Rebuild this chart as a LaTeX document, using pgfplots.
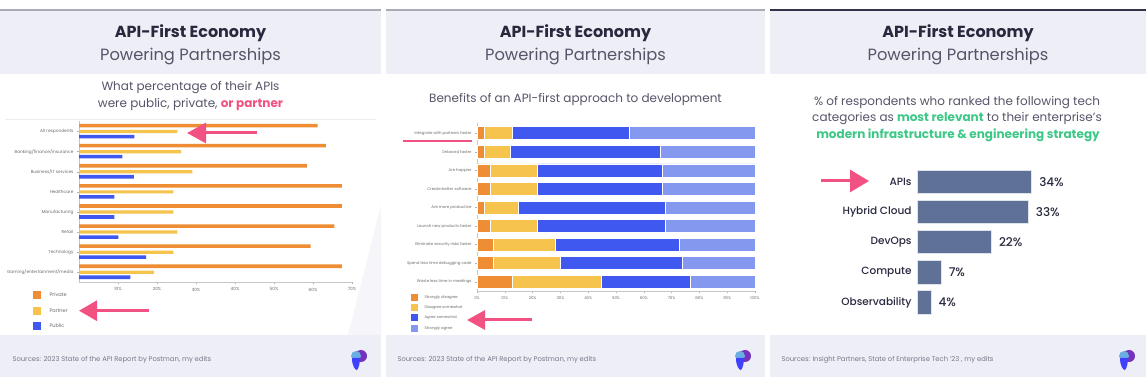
\documentclass[border=0pt]{standalone}
\usepackage{fontspec}
\setmainfont{Poppins}
\newfontfamily\popmed{Poppins Medium}
\usepackage{pgfplots}
\pgfplotsset{compat=1.18}
\usetikzlibrary{arrows.meta}
\definecolor{orangeC}{RGB}{238,141,52}
\definecolor{yellowC}{RGB}{246,195,76}
\definecolor{blueC}{RGB}{62,88,240}
\definecolor{lblueC}{RGB}{132,152,240}
\definecolor{slateC}{RGB}{95,113,150}
\definecolor{band}{RGB}{238,238,246}
\definecolor{titleC}{RGB}{40,40,62}
\definecolor{subC}{RGB}{85,85,105}
\definecolor{pinkC}{RGB}{242,82,130}
\definecolor{greenC}{RGB}{62,200,135}
\definecolor{lineC}{RGB}{170,170,185}
\definecolor{darkline}{RGB}{50,50,75}
\definecolor{footC}{RGB}{120,120,138}
\begin{document}
\begin{tikzpicture}[x=1pt,y=1pt]
\useasboundingbox (0,0) rectangle (1148,380);
\fill[white] (0,0) rectangle (1148,380);
% bands
\foreach \a/\b in {0/381,386/765,770/1146}{
  \fill[band] (\a,306) rectangle (\b,369);
  \fill[band] (\a,3) rectangle (\b,45);
}
\fill[band!55] (381,175) -- (348,45) -- (381,45) -- cycle;
\draw[lineC, line width=2pt] (0,370) -- (381,370);
\draw[lineC, line width=2pt] (386,370) -- (765,370);
\draw[darkline, line width=2pt] (770,370) -- (1146,370);
% titles
\foreach \c in {190.5,575.5,958}{
  \node[text=titleC, font=\fontsize{16}{18}\selectfont\bfseries] at (\c,347) {API-First Economy};
  \node[text=subC, font=\fontsize{16.3}{18}\selectfont] at (\c,323) {Powering Partnerships};
}
% subtitles
\node[text=subC, font=\fontsize{12}{13}\selectfont] at (190.5,292) {What percentage of their APIs};
\node[text=subC, font=\fontsize{12}{13}\selectfont] at (190.5,275) {were public, private, {\bfseries\color{pinkC}or partner}};
\draw[gray!15, line width=0.5pt] (5,261) -- (376,261);
\node[text=subC, font=\fontsize{12}{13}\selectfont] at (575.5,281) {Benefits of an API-first approach to development};
\node[text=subC, font=\fontsize{12}{13}\selectfont] at (957,277) {\% of respondents who ranked the following tech};
\node[text=subC, font=\fontsize{12}{13}\selectfont] at (957,261) {categories as {\bfseries\color{greenC}most relevant} to their enterprise’s};
\node[text=greenC, font=\fontsize{12}{13}\selectfont\bfseries] at (958,245) {modern infrastructure \& engineering strategy};
% footers
\node[anchor=west, text=footC, font=\fontsize{6.8}{8}\selectfont] at (9,20) {Sources: 2023 State of the API Report by Postman, my edits};
\node[anchor=west, text=footC, font=\fontsize{6.8}{8}\selectfont] at (394,20) {Sources: 2023 State of the API Report by Postman, my edits};
\node[anchor=west, text=footC, font=\fontsize{6.8}{8}\selectfont] at (778,20) {Sources: Insight Partners, State of Enterprise Tech ’23 , my edits};
% logos
\foreach \lx in {358,742,1126}{
  \fill[violet!65!blue!80] (\lx+3,24) ellipse (6pt and 6pt);
  \fill[cyan!70!blue!60] (\lx-2,24) circle (5pt);
  \fill[blue!75] (\lx-6,22) .. controls (\lx-6,14) and (\lx-3,10) .. (\lx-1,10) .. controls (\lx+1,12) and (\lx+2,18) .. (\lx+2,22) -- cycle;
}
% ===== Panel 1 chart =====
\begin{axis}[at={(79pt,97.7pt)}, anchor=south west, scale only axis,
  width=273pt, height=161.8pt,
  xmin=0, xmax=70, ymin=-0.5, ymax=7.55,
  axis x line*=bottom, axis y line*=left,
  axis line style={draw=gray!45, line width=0.5pt},
  xtick={10,20,30,40,50,60,70},
  xticklabels={10\%,20\%,30\%,40\%,50\%,60\%,70\%},
  ytick={0,...,7},
  yticklabels={Gaming/entertainment/media,Technology,Retail,Manufacturing,Healthcare,Business/IT services,Banking/finance/insurance,All respondents},
  tick style={draw=gray!60, line width=0.4pt}, major tick length=2pt, tick align=outside,
  ticklabel style={font=\fontsize{4.3}{5}\selectfont, text=gray!85!black},
  clip=false]
\addplot[xbar, bar width=3.6pt, bar shift=6pt, fill=orangeC, draw=none] coordinates {(67.4,0) (59.4,1) (65.5,2) (67.4,3) (67.4,4) (58.4,5) (63.3,6) (61.2,7)};
\addplot[xbar, bar width=3.2pt, bar shift=0pt, fill=yellowC, draw=none] coordinates {(19.2,0) (24.2,1) (25.2,2) (24.2,3) (24.2,4) (29.1,5) (26.2,6) (25.2,7)};
\addplot[xbar, bar width=3.6pt, bar shift=-5pt, fill=blueC, draw=none] coordinates {(13.2,0) (17.2,1) (10.1,2) (9.1,3) (9.1,4) (14.1,5) (11.1,6) (14.2,7)};
\end{axis}
% legend panel 1
\fill[orangeC] (33,81) rectangle (41,89);
\fill[yellowC] (33,65.3) rectangle (41,73.3);
\fill[blueC] (33,50) rectangle (41,58);
\node[anchor=west, font=\fontsize{5}{6}\selectfont, text=gray!85!black] at (46,85) {Private};
\node[anchor=west, font=\fontsize{5}{6}\selectfont, text=gray!85!black] at (46,69.3) {Partner};
\node[anchor=west, font=\fontsize{5}{6}\selectfont, text=gray!85!black] at (46,54) {Public};
% ===== Panel 2 chart =====
\begin{axis}[at={(477pt,89pt)}, anchor=south west, scale only axis,
  width=278pt, height=167.9pt,
  xbar stacked, bar width=13pt,
  xmin=0, xmax=100, ymin=-0.5, ymax=8.55,
  axis x line*=bottom, axis y line*=left,
  axis line style={draw=gray!45, line width=0.5pt},
  xtick={0,10,...,100},
  xticklabels={0\%,10\%,20\%,30\%,40\%,50\%,60\%,70\%,80\%,90\%,100\%},
  ytick={0,...,8},
  yticklabels={Waste less time in meetings,Spend less time debugging code,Eliminate security risks faster,Launch new products faster,Are more productive,Create better software,Are happier,Onboard faster,Integrate with partners faster},
  tick style={draw=gray!60, line width=0.4pt}, major tick length=2pt, tick align=outside,
  ticklabel style={font=\fontsize{3.9}{5}\selectfont, text=gray!85!black},
  clip=false]
\addplot[fill=orangeC, draw=white, line width=0.8pt] coordinates {(2.6,8) (2.6,7) (4.8,6) (4.8,5) (2.6,4) (4.8,3) (5.8,2) (5.8,1) (12.6,0)};
\addplot[fill=yellowC, draw=white, line width=0.8pt] coordinates {(10.2,8) (9.3,7) (17.1,6) (17.1,5) (12.4,4) (17.1,3) (22.4,2) (24.3,1) (32.3,0)};
\addplot[fill=blueC, draw=white, line width=0.8pt] coordinates {(42,8) (53.9,7) (44.8,6) (44.8,5) (52.9,4) (46,3) (44.7,2) (43.8,1) (32,0)};
\addplot[fill=lblueC, draw=white, line width=0.8pt] coordinates {(45.2,8) (34.2,7) (33.3,6) (33.3,5) (32.1,4) (32.1,3) (27.1,2) (26.1,1) (23.1,0)};
\end{axis}
% legend panel 2
\fill[orangeC] (411,79.2) rectangle (418,86.2);
\fill[yellowC] (411,69.2) rectangle (418,76.2);
\fill[blueC] (411,58.5) rectangle (418,65.5);
\fill[lblueC] (411,48.2) rectangle (418,55.2);
\node[anchor=west, font=\fontsize{3.8}{5}\selectfont, text=gray!85!black] at (421,82.7) {Strongly disagree};
\node[anchor=west, font=\fontsize{3.8}{5}\selectfont, text=gray!85!black] at (421,72.7) {Disagree somewhat};
\node[anchor=west, font=\fontsize{3.8}{5}\selectfont, text=gray!85!black] at (421,62) {Agree somewhat};
\node[anchor=west, font=\fontsize{3.8}{5}\selectfont, text=gray!85!black] at (421,51.7) {Strongly agree};
% ===== Panel 3 chart =====
\begin{axis}[at={(917.7pt,62.6pt)}, anchor=south west, scale only axis,
  width=134.1pt, height=150.75pt,
  xbar, bar width=23.3pt,
  xmin=0, xmax=40, ymin=-0.5, ymax=4.5,
  axis line style={draw=none}, major tick length=0pt,
  xtick=\empty, ytick={0,...,4},
  yticklabels={Observability,Compute,DevOps,Hybrid Cloud,APIs},
  y tick label style={font=\popmed\fontsize{10.5}{12}\selectfont, text=titleC, inner sep=0pt, xshift=-6pt},
  point meta=x,
  nodes near coords={\pgfmathprintnumber[assume math mode=true]{\pgfplotspointmeta}\%},
  every node near coord/.append style={font=\popmed\fontsize{12}{14}\selectfont, text=titleC, xshift=4pt},
  clip=false]
\addplot[fill=slateC, draw=white!80!slateC, line width=0.5pt] coordinates {(4,0) (7,1) (22,2) (33,3) (34,4)};
\end{axis}
% arrows and marks
\draw[pinkC, line width=3pt, -{Triangle[length=19pt,width=20pt]}] (257,247) -- (187,247);
\draw[pinkC, line width=3pt, -{Triangle[length=18pt,width=20pt]}] (149,69.3) -- (79,69.3);
\draw[pinkC, line width=3pt, -{Triangle[length=18pt,width=19pt]}] (532,60) -- (467,60);
\draw[pinkC, line width=3pt, -{Triangle[length=19pt,width=22pt]}] (821,199) -- (869,199);
\draw[pinkC, line width=1.6pt] (403,239) -- (472,239);
\end{tikzpicture}
\end{document}
